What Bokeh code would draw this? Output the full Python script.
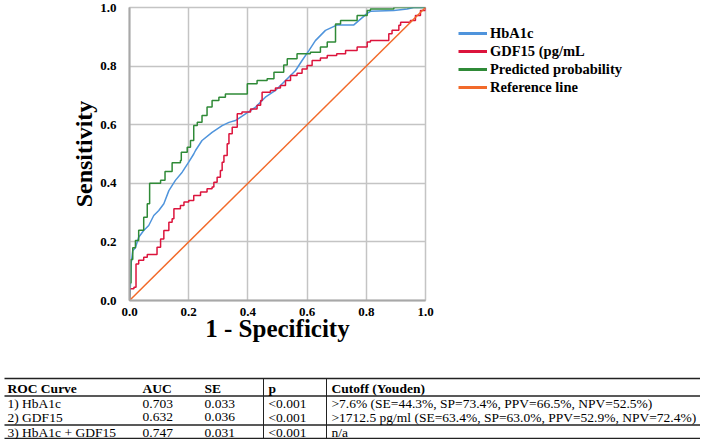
from bokeh.plotting import figure
from bokeh.layouts import column, row
from bokeh.models import Legend, LegendItem, FixedTicker, Range1d, PrintfTickFormatter
from bokeh.embed import file_html
from bokeh.resources import INLINE
from bokeh.core.properties import value

# ---------------- data ----------------
hba1c_fpr = [0, 0.003, 0.006, 0.011, 0.02, 0.031, 0.048, 0.065, 0.082, 0.099, 0.116, 0.133, 0.155,
             0.178, 0.2, 0.217, 0.223, 0.245, 0.279, 0.313, 0.336, 0.358, 0.392, 0.426, 0.459, 0.493,
             0.527, 0.561, 0.583, 0.606, 0.628, 0.662, 0.70, 0.757, 0.803, 0.814, 0.893, 0.938, 0.96, 1.0]
hba1c_tpr = [0, 0.05, 0.13, 0.17, 0.18, 0.216, 0.239, 0.256, 0.29, 0.307, 0.33, 0.375, 0.41,
             0.438, 0.472, 0.5, 0.512, 0.546, 0.574, 0.597, 0.608, 0.614, 0.637, 0.66, 0.694, 0.717,
             0.751, 0.785, 0.819, 0.853, 0.887, 0.922, 0.94, 0.94, 0.98, 0.987, 0.99, 0.995, 1.0, 1.0]

gdf15_fpr = [0, 0, 0.015, 0.022, 0.031, 0.048, 0.06, 0.088, 0.093, 0.105, 0.116, 0.133, 0.144, 0.15,
             0.172, 0.184, 0.2, 0.217, 0.24, 0.262, 0.279, 0.285, 0.296, 0.307, 0.313, 0.319, 0.33,
             0.336, 0.347, 0.364, 0.364, 0.38, 0.409, 0.431, 0.443, 0.448, 0.476, 0.493, 0.51, 0.527,
             0.544, 0.566, 0.583, 0.6, 0.617, 0.645, 0.668, 0.70, 0.73, 0.769, 0.803, 0.814, 0.876,
             0.876, 0.887, 0.91, 0.916, 0.949, 0.966, 0.983, 1.0]
gdf15_tpr = [0, 0.04, 0.045, 0.125, 0.137, 0.148, 0.157, 0.157, 0.182, 0.21, 0.239, 0.267, 0.279, 0.313,
             0.324, 0.336, 0.341, 0.358, 0.37, 0.381, 0.387, 0.404, 0.421, 0.444, 0.472, 0.495, 0.535,
             0.569, 0.591, 0.597, 0.637, 0.643, 0.654, 0.666, 0.683, 0.711, 0.717, 0.725, 0.734, 0.751,
             0.768, 0.776, 0.79, 0.802, 0.819, 0.828, 0.836, 0.842, 0.853, 0.865, 0.882, 0.887, 0.887,
             0.91, 0.922, 0.939, 0.95, 0.956, 0.973, 0.99, 1.0]

pred_fpr = [0, 0, 0.005, 0.011, 0.02, 0.031, 0.048, 0.06, 0.068, 0.093, 0.105, 0.12, 0.144, 0.172,
            0.175, 0.195, 0.206, 0.217, 0.229, 0.245, 0.262, 0.279, 0.302, 0.324, 0.375, 0.398, 0.431,
            0.465, 0.488, 0.521, 0.533, 0.566, 0.611, 0.645, 0.668, 0.696, 0.696, 0.713, 0.769, 0.803,
            0.814, 0.893, 1.0]
pred_tpr = [0, 0.06, 0.14, 0.18, 0.205, 0.24, 0.284, 0.33, 0.40, 0.40, 0.41, 0.44, 0.47, 0.478,
            0.506, 0.523, 0.546, 0.597, 0.608, 0.631, 0.66, 0.683, 0.694, 0.705, 0.705, 0.74, 0.751,
            0.757, 0.779, 0.804, 0.825, 0.842, 0.847, 0.865, 0.882, 0.882, 0.944, 0.956, 0.973, 0.99,
            0.995, 1.0, 1.0]

ref_x = [0, 1]
ref_y = [0, 1]

series_names = ["HbA1c", "GDF15 (pg/mL", "Predicted probability", "Reference line"]
series_colors = ["#4f94dc", "#dc143c", "#2f8a37", "#f26a2a"]
tick_values = [0.0, 0.2, 0.4, 0.6, 0.8, 1.0]

table_header = ["ROC Curve", "AUC", "SE", "p", "Cutoff (Youden)"]
table_curve = ["1) HbA1c", "2) GDF15", "3) HbA1c + GDF15"]
table_auc = ["0.703", "0.632", "0.747"]
table_se = ["0.033", "0.036", "0.031"]
table_p = ["<0.001", "<0.001", "<0.001"]
table_cutoff = [">7.6% (SE=44.3%, SP=73.4%, PPV=66.5%, NPV=52.5%)",
                ">1712.5 pg/ml (SE=63.4%, SP=63.0%, PPV=52.9%, NPV=72.4%)",
                "n/a"]

series_x = [hba1c_fpr, gdf15_fpr, pred_fpr, ref_x]
series_y = [hba1c_tpr, gdf15_tpr, pred_tpr, ref_y]

SERIF = "Liberation Serif"

# ---------------- ROC chart ----------------
W = 700
CH = 368
PW = 440
p = figure(width=PW, height=CH, x_range=Range1d(0, 1), y_range=Range1d(0, 1),
           output_backend="svg", toolbar_location=None,
           min_border_left=129, min_border_right=PW - 129 - 296,
           min_border_top=7, min_border_bottom=CH - 300)
p.background_fill_color = "white"
p.border_fill_color = "white"
p.outline_line_color = "#c4c4c4"
p.outline_line_width = 1.5

for ax in (p.xaxis[0], p.yaxis[0]):
    ax.ticker = FixedTicker(ticks=tick_values)
    ax.formatter = PrintfTickFormatter(format="%.1f")
    ax.major_tick_line_color = None
    ax.minor_tick_line_color = None
    ax.axis_line_color = "#a8a8a8"
    ax.axis_line_width = 2
    ax.major_label_text_font = SERIF
    ax.major_label_text_font_style = "bold"
    ax.major_label_text_font_size = "13px"
    ax.major_label_text_color = "black"
    ax.axis_label_text_font = SERIF
    ax.axis_label_text_font_style = "bold"
    ax.axis_label_text_color = "black"

p.xaxis.axis_label = "1 - Specificity"
p.yaxis.axis_label = "Sensitivity"
p.xaxis.axis_label_text_font_size = "25px"
p.yaxis.axis_label_text_font_size = "24px"
p.xaxis.major_label_standoff = 1
p.yaxis.major_label_standoff = 7
p.xaxis.axis_label_standoff = -4
p.yaxis.axis_label_standoff = 0

for g in (p.xgrid[0], p.ygrid[0]):
    g.ticker = FixedTicker(ticks=tick_values)
    g.grid_line_color = "#c4c4c4"
    g.grid_line_width = 1.5

lw = 1.5
p.line(hba1c_fpr, hba1c_tpr, line_color=series_colors[0], line_width=lw)
p.step(gdf15_fpr, gdf15_tpr, mode="after", line_color=series_colors[1], line_width=lw)
p.step(pred_fpr, pred_tpr, mode="after", line_color=series_colors[2], line_width=lw)
p.line(ref_x, ref_y, line_color=series_colors[3], line_width=lw)

# ---------------- legend panel ----------------
LW = W - PW
lf = figure(width=LW, height=CH, x_range=Range1d(0, 1), y_range=Range1d(0, 1),
            output_backend="svg", toolbar_location=None,
            x_axis_location=None, y_axis_location=None,
            min_border=0, min_border_left=0, min_border_right=0,
            min_border_top=0, min_border_bottom=0)
lf.grid.visible = False
lf.outline_line_color = None
lf.background_fill_color = "white"
lf.border_fill_color = "white"

items = []
for name, col, xs, ys in zip(series_names, series_colors, series_x, series_y):
    r = lf.line(xs, ys, line_color=col, line_width=3, visible=False)
    items.append(LegendItem(label=name, renderers=[r]))

legend = Legend(items=items, location=(458 - PW, CH - 24 - 72), orientation="vertical",
                label_text_font=SERIF, label_text_font_style="bold",
                label_text_font_size="14.5px", label_text_color="black",
                glyph_width=29, glyph_height=18, label_height=18, label_standoff=3,
                spacing=0, padding=0, margin=0, border_line_color=None,
                background_fill_alpha=0, inactive_fill_alpha=0)
lf.add_layout(legend, "center")

# ---------------- statistics table ----------------
TH = 439 - CH
t = figure(width=W, height=TH, x_range=Range1d(0, W), y_range=Range1d(TH, 0),
           output_backend="svg", toolbar_location=None,
           x_axis_location=None, y_axis_location=None,
           min_border=0, min_border_left=0, min_border_right=0,
           min_border_top=0, min_border_bottom=0)
t.grid.visible = False
t.outline_line_color = None
t.background_fill_color = "white"
t.border_fill_color = "white"

col_x = [7, 142, 204, 268, 331]
header_y = 19.5
row_y = [35, 48.5, 64]
line_y = [10, 27.5, 56.5, 70]
vline_x = [263, 326]

t.segment(x0=[4] * len(line_y), x1=[705] * len(line_y), y0=line_y, y1=line_y,
          line_color="#222222", line_width=1.3)
t.segment(x0=vline_x, x1=vline_x, y0=[line_y[0]] * 2, y1=[line_y[-1]] * 2,
          line_color="#222222", line_width=1)

t.text(x=col_x, y=[header_y] * len(table_header), text=table_header,
       text_font=value(SERIF), text_font_style="bold", text_font_size="13.5px",
       text_baseline="middle", text_align="left", text_color="black")

cells_x, cells_y, cells_t = [], [], []
for i in range(len(table_curve)):
    for cx, txt in zip(col_x, [table_curve[i], table_auc[i], table_se[i], table_p[i], table_cutoff[i]]):
        cells_x.append(cx)
        cells_y.append(row_y[i])
        cells_t.append(txt)
t.text(x=cells_x, y=cells_y, text=cells_t, text_font=value(SERIF),
       text_font_size="13.5px", text_baseline="middle", text_align="left", text_color="black")

layout = column(row(p, column(lf), spacing=0), row(t), spacing=0)
open("out.html", "w").write(file_html(layout, INLINE))
